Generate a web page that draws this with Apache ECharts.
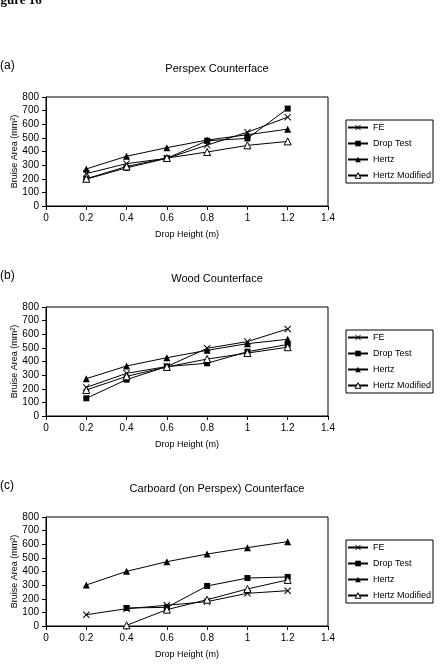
<!DOCTYPE html>
<html>
<head>
<meta charset="utf-8">
<script src="https://cdn.jsdelivr.net/npm/echarts@6/dist/echarts.min.js"></script>
<style>
html,body{margin:0;padding:0;background:#fff;}
#c{width:441px;height:670px;}
</style>
</head>
<body>
<div id="c"></div>
<script>
// ---- data ----
const heights = [0.2, 0.4, 0.6, 0.8, 1.0, 1.2];
const seriesNames = ['FE', 'Drop Test', 'Hertz', 'Hertz Modified'];
const panelLabels = ['(a)', '(b)', '(c)'];
const panelTitles = ['Perspex Counterface', 'Wood Counterface', 'Carboard (on Perspex) Counterface'];
const yTicks = [0, 100, 200, 300, 400, 500, 600, 700, 800];
const xTicks = [0, 0.2, 0.4, 0.6, 0.8, 1, 1.2, 1.4];

const perspexFE       = [238, 311, 350, 447, 542, 652];
const perspexDrop     = [197, 280, 350, 479, 496, 715];
const perspexHertz    = [272, 365, 428, 484, 523, 564];
const perspexHertzMod = [200, 290, 352, 396, 445, 474];

const woodFE       = [210, 313, 363, 497, 546, 639];
const woodDrop     = [130, 267, 363, 387, 472, 525];
const woodHertz    = [274, 367, 428, 482, 531, 563];
const woodHertzMod = [191, 291, 360, 418, 462, 505];

const cardFE       = [83, 127, 152, 179, 240, 259];
const cardDrop     = [null, 132, 137, 294, 352, 360];
const cardHertz    = [301, 401, 472, 528, 575, 619];
const cardHertzMod = [null, 5, 120, 193, 272, 338];

const panels = [
  [perspexFE, perspexDrop, perspexHertz, perspexHertzMod],
  [woodFE, woodDrop, woodHertz, woodHertzMod],
  [cardFE, cardDrop, cardHertz, cardHertzMod]
];

// ---- styles ----
const crossPath = 'path://M0,1L1,0L5,4L9,0L10,1L6,5L10,9L9,10L5,6L1,10L0,9L4,5Z';
const markerStyles = [
  { symbol: crossPath, symbolSize: 7, itemStyle: { color: '#000', borderWidth: 0 } },
  { symbol: 'rect', symbolSize: 6, itemStyle: { color: '#000', borderWidth: 0 } },
  { symbol: 'triangle', symbolSize: 7, itemStyle: { color: '#000', borderWidth: 0 } },
  { symbol: 'triangle', symbolSize: 7, itemStyle: { color: '#fff', borderColor: '#000', borderWidth: 1 } }
];

const gridTops = [97, 307, 517];
const gridH = 109;
const font = 'Liberation Sans, Arial, sans-serif';

const grids = [], xAxes = [], yAxes = [], series = [], legends = [], graphics = [];
gridTops.forEach((top, i) => {
  grids.push({ left: 46, top: top, width: 282, height: gridH, show: true,
    borderColor: '#000', borderWidth: 1, backgroundColor: 'transparent',
    containLabel: false, outerBoundsMode: 'none' });
  xAxes.push({
    type: 'value', gridIndex: i, min: 0, max: 1.4, interval: 0.2,
    name: 'Drop Height (m)', nameLocation: 'middle', nameGap: 24, nameMoveOverlap: false,
    nameTextStyle: { fontFamily: font, fontSize: 9, color: '#000' },
    axisLine: { show: true, lineStyle: { color: '#000', width: 1 } },
    axisTick: { show: true, inside: false, length: 4, lineStyle: { color: '#000' } },
    axisLabel: { fontFamily: font, fontSize: 10, color: '#000', margin: 7,
      formatter: v => String(+v.toFixed(1)) },
    splitLine: { show: false }
  });
  yAxes.push({
    type: 'value', gridIndex: i, min: 0, max: 800, interval: 100,
    name: 'Bruise Area (mm²)', nameLocation: 'middle', nameGap: 27, nameRotate: 90,
    nameMoveOverlap: false,
    nameTextStyle: { fontFamily: font, fontSize: 9, color: '#000' },
    axisLine: { show: true, lineStyle: { color: '#000', width: 1 } },
    axisTick: { show: true, inside: false, length: 4, lineStyle: { color: '#000' } },
    axisLabel: { fontFamily: font, fontSize: 10, color: '#000', margin: 7 },
    splitLine: { show: false }
  });
  panels[i].forEach((vals, s) => {
    const data = [];
    vals.forEach((v, k) => { if (v !== null) data.push([heights[k], v]); });
    series.push(Object.assign({
      type: 'line', name: seriesNames[s], xAxisIndex: i, yAxisIndex: i,
      data: data, showAllSymbol: true, animation: false,
      lineStyle: { color: '#000', width: 1 }, z: 2 + s
    }, markerStyles[s]));
  });
  legends.push({
    data: seriesNames, orient: 'vertical', left: 346, top: top + 23,
    padding: [3, 2, 3, 1], itemGap: 7, itemWidth: 20, itemHeight: 7,
    borderColor: '#000', borderWidth: 1, backgroundColor: '#fff',
    selectedMode: false,
    itemStyle: { borderWidth: 'inherit' },
    textStyle: { fontFamily: font, fontSize: 9, color: '#000' }
  });
  graphics.push({ type: 'text', x: 0, y: top - 31, style: { text: panelLabels[i],
    font: '12px ' + font, fill: '#000', verticalAlign: 'middle', align: 'left' } });
  graphics.push({ type: 'text', x: 217, y: top - 28, style: { text: panelTitles[i],
    font: '11px ' + font, fill: '#000', verticalAlign: 'middle', align: 'center' } });
});
graphics.push({ type: 'text', x: -11, y: 1, style: { text: 'Figure 16',
  font: 'bold 13px "Liberation Serif", "Times New Roman", serif', fill: '#000',
  verticalAlign: 'middle', align: 'left' } });

const chart = echarts.init(document.getElementById('c'));
chart.setOption({
  backgroundColor: '#fff',
  animation: false,
  grid: grids, xAxis: xAxes, yAxis: yAxes, series: series,
  legend: legends, graphic: graphics
});
</script>
</body>
</html>
